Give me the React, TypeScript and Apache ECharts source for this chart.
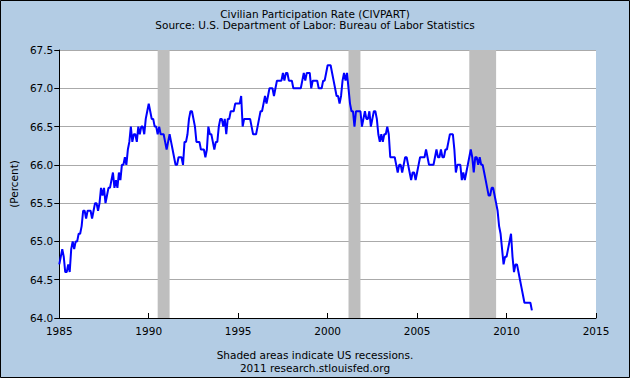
import React, { useEffect, useRef } from "react";
import * as echarts from "echarts";

const startYear = 1985;

const r1985 = [64.7, 64.8, 64.9, 64.8, 64.6, 64.6, 64.7, 64.6, 64.9, 65.0, 64.9, 65.0];
const r1986 = [65.0, 65.1, 65.1, 65.2, 65.4, 65.4, 65.3, 65.4, 65.4, 65.4, 65.3, 65.4];
const r1987 = [65.5, 65.5, 65.4, 65.5, 65.7, 65.6, 65.7, 65.5, 65.6, 65.7, 65.7, 65.8];
const r1988 = [65.9, 65.7, 65.8, 65.7, 65.9, 65.8, 66.0, 66.0, 66.1, 66.0, 66.2, 66.3];
const r1989 = [66.5, 66.3, 66.4, 66.4, 66.3, 66.5, 66.4, 66.5, 66.5, 66.4, 66.6, 66.7];
const r1990 = [66.8, 66.7, 66.6, 66.6, 66.5, 66.5, 66.4, 66.5, 66.4, 66.4, 66.4, 66.3];
const r1991 = [66.2, 66.3, 66.4, 66.3, 66.2, 66.1, 66.0, 66.0, 66.1, 66.1, 66.1, 66.0];
const r1992 = [66.3, 66.3, 66.4, 66.6, 66.7, 66.7, 66.6, 66.5, 66.3, 66.3, 66.3, 66.2];
const r1993 = [66.2, 66.2, 66.1, 66.2, 66.5, 66.4, 66.4, 66.3, 66.2, 66.3, 66.3, 66.5];
const r1994 = [66.6, 66.6, 66.5, 66.6, 66.4, 66.6, 66.6, 66.7, 66.7, 66.7, 66.8, 66.8];
const r1995 = [66.8, 66.8, 66.9, 66.5, 66.6, 66.6, 66.6, 66.6, 66.6, 66.5, 66.4, 66.4];
const r1996 = [66.4, 66.5, 66.6, 66.7, 66.7, 66.8, 66.9, 66.8, 66.9, 67.0, 67.0, 67.0];
const r1997 = [66.9, 67.0, 67.1, 67.1, 67.1, 67.1, 67.2, 67.1, 67.2, 67.2, 67.1, 67.1];
const r1998 = [67.1, 67.0, 67.0, 67.0, 67.0, 67.0, 67.0, 67.1, 67.2, 67.1, 67.2, 67.2];
const r1999 = [67.2, 67.0, 67.1, 67.1, 67.1, 67.1, 67.0, 67.0, 67.0, 67.1, 67.1, 67.2];
const r2000 = [67.3, 67.3, 67.3, 67.2, 67.1, 67.0, 66.9, 66.9, 66.8, 66.9, 67.1, 67.2];
const r2001 = [67.1, 67.2, 67.0, 66.8, 66.7, 66.7, 66.5, 66.7, 66.7, 66.7, 66.7, 66.5];
const r2002 = [66.6, 66.7, 66.6, 66.6, 66.7, 66.5, 66.6, 66.7, 66.7, 66.6, 66.4, 66.3];
const r2003 = [66.4, 66.3, 66.4, 66.4, 66.5, 66.4, 66.1, 66.1, 66.1, 66.1, 66.0, 65.9];
const r2004 = [66.0, 66.0, 65.9, 66.0, 66.1, 66.1, 66.0, 65.9, 65.8, 65.9, 65.9, 65.8];
const r2005 = [65.9, 66.0, 66.1, 66.1, 66.1, 66.1, 66.2, 66.1, 66.0, 66.0, 66.0, 66.0];
const r2006 = [66.1, 66.2, 66.1, 66.1, 66.2, 66.1, 66.1, 66.2, 66.2, 66.3, 66.4, 66.4];
const r2007 = [66.4, 66.2, 65.9, 66.0, 66.0, 66.0, 65.8, 65.9, 65.8, 65.9, 66.0, 66.1];
const r2008 = [66.2, 66.1, 65.9, 66.1, 66.1, 66.0, 66.1, 66.0, 66.0, 65.9, 65.8, 65.7];
const r2009 = [65.6, 65.6, 65.7, 65.7, 65.6, 65.5, 65.4, 65.2, 65.1, 64.9, 64.7, 64.8];
const r2010 = [64.8, 64.9, 65.0, 65.1, 64.8, 64.6, 64.7, 64.7, 64.6, 64.5, 64.4, 64.3];
const r2011 = [64.2, 64.2, 64.2, 64.2, 64.2, 64.1];

const monthlyByYear = [
  r1985, r1986, r1987, r1988, r1989, r1990, r1991, r1992, r1993,
  r1994, r1995, r1996, r1997, r1998, r1999, r2000, r2001, r2002,
  r2003, r2004, r2005, r2006, r2007, r2008, r2009, r2010, r2011,
];

// recession periods as [start, end] in fractional years
const recessions = [
  [1990 + 6 / 12, 1991 + 2 / 12],
  [2001 + 2 / 12, 2001 + 10 / 12],
  [2007 + 11 / 12, 2009 + 5 / 12],
];

const xMin = 1985;
const xMax = 2015;
const xStep = 5;
const yMin = 64.0;
const yMax = 67.5;
const yStep = 0.5;

const titleLine1 = "Civilian Participation Rate (CIVPART)";
const titleLine2 = "Source: U.S. Department of Labor: Bureau of Labor Statistics";
const footLine1 = "Shaded areas indicate US recessions.";
const footLine2 = "2011 research.stlouisfed.org";
const yName = "(Percent)";

const FONT = "DejaVu Sans";

export default function App() {
  const ref = useRef<HTMLDivElement>(null);
  useEffect(() => {
    const chart = echarts.init(ref.current as HTMLDivElement, null, { renderer: "svg" });
    const data: number[][] = [];
    monthlyByYear.forEach((vals, yi) => {
      vals.forEach((v, m) => data.push([startYear + yi + m / 12, v]));
    });
    chart.setOption({
      animation: false,
      backgroundColor: "#B3CCE4",
      grid: {
        left: 58,
        top: 50,
        width: 538,
        height: 268,
        show: true,
        backgroundColor: "#FFFFFF",
        borderWidth: 0,
      },
      xAxis: {
        type: "value",
        min: xMin,
        max: xMax,
        interval: xStep,
        axisLine: { show: true, onZero: false, lineStyle: { color: "#000", width: 1 } },
        axisTick: { show: true, inside: true, length: 5, lineStyle: { color: "#000" } },
        axisLabel: {
          color: "#000",
          fontSize: 10.5,
          fontFamily: FONT,
          margin: 7,
          formatter: (v: number) => String(v),
        },
        splitLine: { show: false },
      },
      yAxis: {
        type: "value",
        min: yMin,
        max: yMax,
        interval: yStep,
        axisLine: { show: true, lineStyle: { color: "#000", width: 1 } },
        axisTick: { show: true, inside: false, length: 5, lineStyle: { color: "#000" } },
        axisLabel: {
          color: "#000",
          fontSize: 10.5,
          fontFamily: FONT,
          margin: 6,
          formatter: (v: number) => v.toFixed(1),
        },
        splitLine: { show: true, lineStyle: { color: "#AAAAAA", width: 1 } },
        name: yName,
        nameLocation: "middle",
        nameGap: 40,
        nameTextStyle: { color: "#000", fontSize: 10.5, fontFamily: FONT },
      },
      series: [
        {
          type: "line",
          data,
          showSymbol: false,
          symbol: "none",
          lineStyle: { color: "#0000FF", width: 2 },
          z: 3,
          markArea: {
            silent: true,
            itemStyle: { color: "#BEBEBE", opacity: 1 },
            data: recessions.map(([a, b]) => [{ xAxis: a }, { xAxis: b }]),
          },
        },
      ],
      graphic: [
        {
          type: "text",
          left: "center",
          top: 8,
          style: { text: titleLine1, fill: "#000", font: `10.5px "${FONT}"` },
        },
        {
          type: "text",
          left: "center",
          top: 19,
          style: { text: titleLine2, fill: "#000", font: `10.5px "${FONT}"` },
        },
        {
          type: "text",
          left: "center",
          top: 349,
          style: { text: footLine1, fill: "#000", font: `10.5px "${FONT}"` },
        },
        {
          type: "text",
          left: "center",
          top: 362,
          style: { text: footLine2, fill: "#000", font: `10.5px "${FONT}"` },
        },
        {
          type: "rect",
          shape: { x: 0.5, y: 0.5, width: 629, height: 377 },
          style: { fill: "none", stroke: "#000", lineWidth: 1 },
          silent: true,
          z: 100,
        },
      ],
    });
    return () => chart.dispose();
  }, []);
  return (
    <div
      ref={ref}
      style={{ position: "fixed", left: 0, top: 0, width: 630, height: 378 }}
    />
  );
}
